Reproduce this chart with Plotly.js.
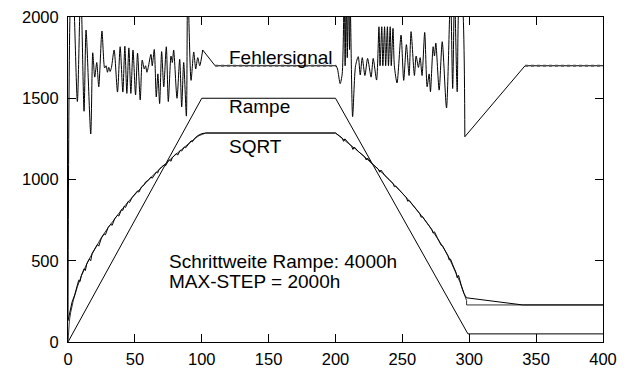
<!DOCTYPE html>
<html>
<head>
<meta charset="utf-8">
<script src="https://cdn.plot.ly/plotly-3.0.1.min.js"></script>
<style>html,body{margin:0;padding:0;background:#fff;}#chart{width:629px;height:371px;}</style>
</head>
<body>
<div id="chart"></div>
<script>
// Rampe (ramp)
const rampX = [0, 100, 200, 299, 400];
const rampY = [0, 1500, 1500, 50, 50];

// SQRT ideal (smooth)
const sqrtIdealX = [0, 1, 2, 4, 7, 10, 15, 20, 25, 30, 35, 40, 45, 50, 55, 60, 65, 70, 75, 80, 85, 90, 95, 98, 101, 103, 200,
  205, 210, 215, 220, 225, 230, 235, 240, 245, 250, 255, 260, 265, 270, 275, 280, 285, 290, 293, 295, 297, 298, 298, 400];
const sqrtIdealY = [0, 129, 182, 257, 340, 407, 498, 575, 643, 704, 761, 813, 863, 909, 954, 996, 1037, 1076, 1114, 1150, 1185, 1220, 1253, 1270, 1282, 1286, 1286,
  1254, 1221, 1187, 1152, 1116, 1079, 1040, 1000, 959, 915, 870, 821, 770, 715, 656, 590, 517, 430, 370, 322, 280, 255, 228, 228];

// SQRT actual (noisy)
const sqrtX = [0, 2, 3, 5, 6, 7, 8, 9, 10, 12, 13, 14, 16, 17, 18, 20, 22, 23, 25, 27, 28, 30, 32, 33, 35, 37, 38, 40, 41, 42, 43, 45, 46, 48, 50,
  52, 53, 55, 57, 58, 60, 62, 63, 65, 66, 67, 68, 70, 72, 73, 75, 76, 77, 78, 80, 81, 82, 84, 85, 87, 88, 90, 92, 93, 95, 97, 100, 103, 200,
  203, 205, 206, 207, 210, 212, 213, 214, 217, 220, 222, 223, 224, 227, 230, 232, 233, 234, 237, 240, 243, 244, 245, 248, 250, 253, 254, 255,
  258, 260, 263, 264, 265, 268, 270, 272, 273, 274, 276, 278, 279, 280, 282, 284, 285, 286, 288, 290, 291, 292, 294, 295, 296, 297, 298, 340, 400];
const sqrtY = [130, 220, 245, 290, 330, 350, 380, 372, 410, 450, 440, 480, 510, 500, 545, 575, 600, 590, 640, 665, 660, 705, 725, 718, 760, 780, 775, 815, 810, 835, 828, 865, 858, 890, 910,
  930, 922, 955, 968, 985, 995, 1015, 1008, 1037, 1045, 1040, 1060, 1078, 1090, 1085, 1115, 1120, 1112, 1135, 1150, 1160, 1150, 1180, 1175, 1200, 1195, 1220, 1238, 1232, 1255, 1270, 1282, 1286, 1286,
  1268, 1255, 1235, 1250, 1222, 1205, 1185, 1200, 1173, 1152, 1138, 1120, 1132, 1100, 1080, 1064, 1045, 1058, 1024, 1000, 976, 955, 960, 933, 915, 888, 866, 872,
  841, 821, 790, 768, 772, 737, 715, 692, 670, 678, 644, 617, 595, 592, 562, 532, 505, 510, 468, 430, 395, 410, 350, 322, 300, 285, 272, 228, 228];

// Fehlersignal (error signal), oscillating stretch 1
const errAX = [0, 1.8, 3.5, 7, 9.5, 12, 13.5, 17, 18.5, 20, 21.5, 23, 25.4, 27.4, 28.5, 29.5, 30.5, 31.5, 32.5, 34.5, 37, 39, 41, 42.5, 44, 45.5, 47, 48.6, 50.5,
  52, 54, 55.5, 57, 58, 59, 60, 62, 63, 64.5, 66, 67.2, 68.5, 70, 71.6, 73.5, 75, 77, 78, 79, 81.5, 83.5, 85, 86.5, 88.5, 89.5, 92, 94, 95.5, 97, 98.5, 100.7];
const errAY = [150, 2100, 2250, 1480, 2200, 1420, 1920, 1280, 1780, 1630, 1720, 1570, 1914, 1686, 1700, 1660, 1690, 1665, 1690, 1797, 1538, 1817, 1538, 1820, 1530, 1810, 1530, 1797, 1520,
  1778, 1489, 1735, 1680, 1700, 1660, 1690, 1770, 1700, 1800, 1508, 1650, 1467, 1787, 1570, 1817, 1480, 1760, 1720, 1797, 1500, 1740, 1446, 1720, 1390, 2200, 1610, 1785, 1680, 1750, 1700, 1797];
// settling ramp + flat after stretch 1
const errLin1X = [100.7, 110, 200.5];
const errLin1Y = [1797, 1700, 1700];
// oscillating stretch 2
const errBX = [200.5, 201.5, 203.5, 205, 206.5, 207.2, 208, 208.8, 209.6, 210.5, 211, 212.8, 215, 217, 218.5, 220, 222, 224, 226.6, 228.2, 230.7, 232.5, 233.3, 234.6, 235.4, 236.7, 237.5,
  238.8, 239.6, 240.9, 241.7, 243, 244, 246, 249, 251, 253, 255, 256.5, 259, 260.3, 262, 263.3, 264.7, 266.7, 268.5, 270, 271, 273, 274, 275, 277.5, 279.8, 283,
  286, 287.6, 289, 291, 293, 294, 296.7];
const errBY = [1700, 1680, 1590, 1650, 2150, 1700, 2150, 1750, 2150, 1800, 2100, 1387, 1700, 1756, 1643, 1750, 1640, 1745, 1630, 1745, 1612, 1940, 1700, 1940, 1700, 1940, 1700,
  1940, 1700, 1940, 1700, 1930, 1700, 1594, 1889, 1610, 1830, 1640, 1910, 1640, 1760, 1690, 1750, 1640, 1905, 1571, 1650, 1540, 1817, 1760, 1840, 1550, 1848, 1440,
  2150, 1560, 2150, 1540, 2150, 2150, 1263];
// recovery ramp + flat
const errLin2X = [296.7, 341.7, 400];
const errLin2Y = [1263, 1700, 1700];

const xTicks = [0, 50, 100, 150, 200, 250, 300, 350, 400];
const yTicks = [0, 500, 1000, 1500, 2000];

const lineStyle = {color: '#000', width: 1};
const osc = {color: '#000', width: 1, shape: 'spline', smoothing: 0.7};
const flatTex = {color: '#555', width: 2, dash: 'dot'};
const traces = [
  {x: errAX, y: errAY, mode: 'lines', line: osc, name: 'Fehlersignal'},
  {x: errLin1X, y: errLin1Y, mode: 'lines', line: lineStyle},
  {x: errLin1X.slice(1), y: errLin1Y.slice(1), mode: 'lines', line: flatTex},
  {x: errBX, y: errBY, mode: 'lines', line: osc},
  {x: errLin2X, y: errLin2Y, mode: 'lines', line: lineStyle},
  {x: errLin2X.slice(1), y: errLin2Y.slice(1), mode: 'lines', line: flatTex},
  {x: rampX, y: rampY, mode: 'lines', line: lineStyle, name: 'Rampe'},
  {x: sqrtIdealX, y: sqrtIdealY, mode: 'lines', line: {color: '#333', width: 1}, name: 'SQRT ideal'},
  {x: sqrtX, y: sqrtY, mode: 'lines', line: lineStyle, name: 'SQRT'}
];

const axisCommon = {
  showline: true, linecolor: '#000', linewidth: 1, mirror: 'ticks',
  ticks: 'inside', ticklen: 8, tickcolor: '#000', tickwidth: 1,
  showgrid: false, zeroline: false,
  tickfont: {family: 'Liberation Sans, Arial, sans-serif', size: 16.5, color: '#000'}
};

const annFont = {family: 'Liberation Sans, Arial, sans-serif', size: 19, color: '#000'};
const layout = {
  width: 629, height: 371,
  margin: {l: 68, r: 26, t: 17, b: 29},
  paper_bgcolor: '#fff', plot_bgcolor: '#fff',
  showlegend: false,
  xaxis: Object.assign({}, axisCommon, {range: [0, 400], tickvals: xTicks, ticktext: xTicks.map(String), ticklabelstandoff: 2}),
  yaxis: Object.assign({}, axisCommon, {range: [0, 2000], tickvals: yTicks, ticktext: yTicks.map(String), ticklabelstandoff: 5}),
  annotations: [
    {x: 119, y: 1750, xref: 'x', yref: 'y', text: 'Fehlersignal', showarrow: false, xanchor: 'left', yanchor: 'middle', font: annFont},
    {x: 119, y: 1450, xref: 'x', yref: 'y', text: 'Rampe', showarrow: false, xanchor: 'left', yanchor: 'middle', font: annFont},
    {x: 119, y: 1205, xref: 'x', yref: 'y', text: 'SQRT', showarrow: false, xanchor: 'left', yanchor: 'middle', font: annFont},
    {x: 74, y: 495, xref: 'x', yref: 'y', text: 'Schrittweite Rampe: 4000h', showarrow: false, xanchor: 'left', yanchor: 'middle', font: annFont},
    {x: 74, y: 370, xref: 'x', yref: 'y', text: 'MAX-STEP = 2000h', showarrow: false, xanchor: 'left', yanchor: 'middle', font: annFont}
  ]
};

Plotly.newPlot('chart', traces, layout, {displayModeBar: false, staticPlot: true});
</script>
</body>
</html>
